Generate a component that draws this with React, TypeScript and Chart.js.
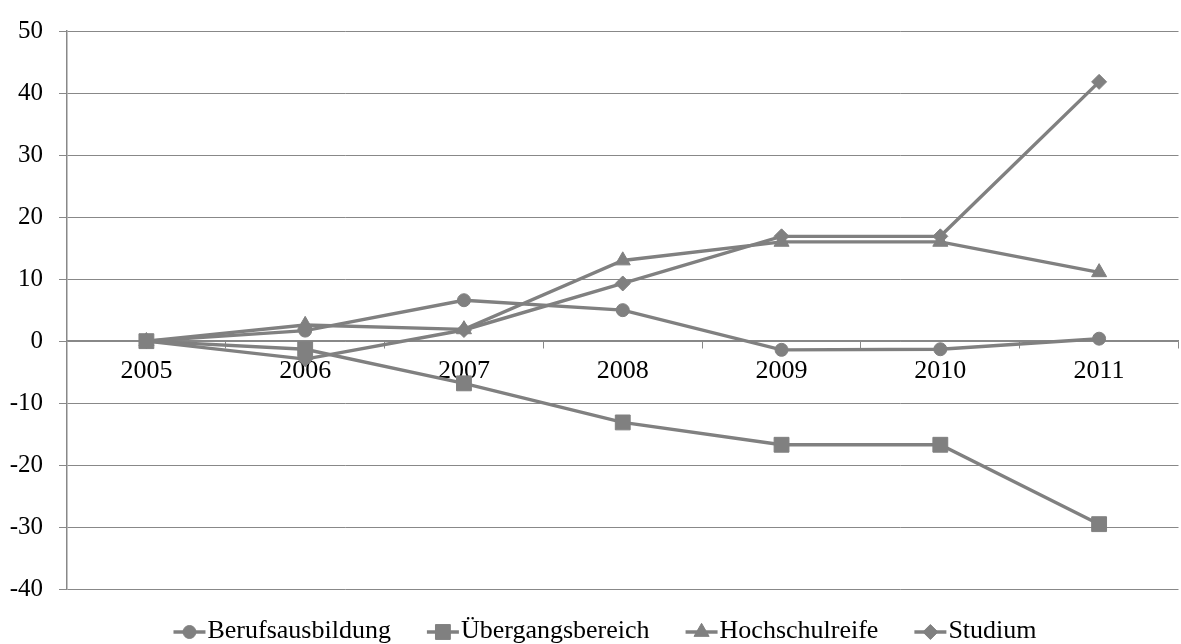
import React, { useEffect, useRef } from 'react';
import { Chart, registerables } from 'chart.js';
import { drawPoint } from 'chart.js/helpers';

Chart.register(...registerables);

const years = ['2005', '2006', '2007', '2008', '2009', '2010', '2011'];
const berufsausbildung = [0, 1.7, 6.6, 5.0, -1.4, -1.3, 0.4];
const uebergangsbereich = [0, -1.3, -6.8, -13.1, -16.7, -16.7, -29.5];
const hochschulreife = [0, 2.6, 1.9, 13.0, 16.0, 16.0, 11.1];
const studium = [0, -2.9, 1.8, 9.3, 16.9, 16.9, 41.8];
const seriesNames = ['Berufsausbildung', 'Übergangsbereich', 'Hochschulreife', 'Studium'];
const yTickValues = [-40, -30, -20, -10, 0, 10, 20, 30, 40, 50];

const SERIES_COLOR = '#808080';
const GRID_COLOR = '#888888';
const FONT = '"Liberation Serif", "Times New Roman", serif';

const legendPlugin = {
  id: 'lineLegend',
  afterDraw(chart: any) {
    const ctx = chart.ctx as CanvasRenderingContext2D;
    ctx.save();
    ctx.font = `26px ${FONT}`;
    const markerW = 32;
    const textGap = 2;
    const itemGap = 36;
    const items = chart.data.datasets.map((ds: any) => ({
      ds,
      w: markerW + textGap + ctx.measureText(ds.label).width,
    }));
    const total = items.reduce((a: number, i: any) => a + i.w, 0) + itemGap * (items.length - 1);
    let x = 605 - total / 2;
    const y = 632;
    for (const it of items) {
      const ds = it.ds;
      ctx.strokeStyle = SERIES_COLOR;
      ctx.lineWidth = 3.4;
      ctx.beginPath();
      ctx.moveTo(x, y);
      ctx.lineTo(x + markerW, y);
      ctx.stroke();
      ctx.fillStyle = SERIES_COLOR;
      ctx.lineWidth = 1;
      drawPoint(ctx, { pointStyle: ds.pointStyle, radius: ds.pointRadius, rotation: 0, borderWidth: 1 } as any, x + markerW / 2, y);
      ctx.fillStyle = '#000';
      ctx.textBaseline = 'alphabetic';
      ctx.textAlign = 'left';
      ctx.fillText(ds.label, x + markerW + textGap, 638);
      x += it.w + itemGap;
    }
    ctx.restore();
  },
};

function makeDataset(label: string, data: number[], pointStyle: string, radius: number) {
  return {
    label,
    data,
    borderColor: SERIES_COLOR,
    backgroundColor: SERIES_COLOR,
    borderWidth: 3.4,
    pointStyle,
    pointRadius: radius,
    pointHoverRadius: radius,
    pointBackgroundColor: SERIES_COLOR,
    pointBorderColor: SERIES_COLOR,
    pointBorderWidth: 1,
    tension: 0,
    fill: false,
  };
}

export default function App() {
  const ref = useRef<HTMLCanvasElement>(null);
  useEffect(() => {
    if (!ref.current) return;
    const chart = new Chart(ref.current, {
      type: 'line',
      data: {
        labels: years,
        datasets: [
          makeDataset(seriesNames[0], berufsausbildung, 'circle', 6.5),
          makeDataset(seriesNames[1], uebergangsbereich, 'rect', 10.5),
          makeDataset(seriesNames[2], hochschulreife, 'triangle', 8.7),
          makeDataset(seriesNames[3], studium, 'rectRot', 7.5),
        ],
      },
      options: {
        animation: false,
        responsive: false,
        devicePixelRatio: 1,
        layout: { padding: { top: 24.5, right: 3, bottom: 54.7, left: 0 } },
        plugins: {
          legend: { display: false },
          tooltip: { enabled: false },
        },
        scales: {
          x: {
            type: 'category',
            position: { y: 0 } as any,
            offset: true,
            grid: {
              display: true,
              drawOnChartArea: false,
              drawTicks: true,
              tickLength: 7,
              offset: true,
              color: GRID_COLOR,
              lineWidth: 1,
            },
            border: { display: true, color: GRID_COLOR, width: 1.5 },
            ticks: {
              color: '#000',
              font: { family: FONT, size: 26 },
              padding: 7,
              maxRotation: 0,
              autoSkip: false,
            },
          },
          y: {
            min: -40,
            max: 50,
            afterBuildTicks: (s: any) => {
              s.ticks = yTickValues.map((v) => ({ value: v }));
            },
            afterFit: (s: any) => {
              s.width = 67;
            },
            ticks: {
              color: '#000',
              font: { family: FONT, size: 25 },
              padding: 16,
            },
            grid: { color: GRID_COLOR, lineWidth: 1, tickLength: 8, drawTicks: true },
            border: { display: true, color: GRID_COLOR, width: 1.5 },
          },
        },
      },
      plugins: [legendPlugin],
    });
    return () => chart.destroy();
  }, []);
  return (
    <div
      style={{
        position: 'fixed',
        left: 0,
        top: 0,
        width: 1181,
        height: 644,
        overflow: 'hidden',
        background: '#fff',
      }}
    >
      <canvas ref={ref} width={1190} height={644} style={{ display: 'block' }} />
    </div>
  );
}
